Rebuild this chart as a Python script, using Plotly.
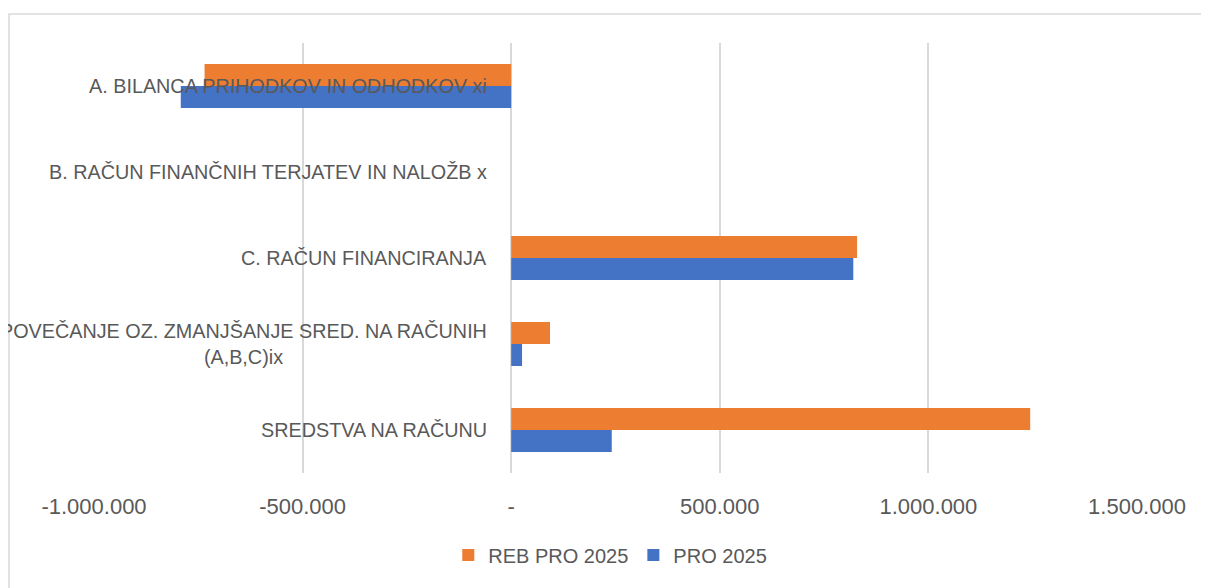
import plotly.graph_objects as go

categories = [
    "A. BILANCA PRIHODKOV IN ODHODKOV xi",
    "B. RAČUN FINANČNIH TERJATEV IN NALOŽB x",
    "C. RAČUN FINANCIRANJA",
    "POVEČANJE OZ. ZMANJŠANJE SRED. NA RAČUNIH<br>(A,B,C)ix",
    "SREDSTVA NA RAČUNU",
]
reb_pro_2025 = [-735000, 0, 829000, 93000, 1244000]
pro_2025 = [-792000, 0, 820000, 26000, 241000]
tick_vals = [-1000000, -500000, 0, 500000, 1000000, 1500000]
tick_text = ["-1.000.000", "-500.000", "-", "500.000", "1.000.000", "1.500.000"]

FONT = "Liberation Sans, Arial, sans-serif"
TXT = "#595959"
GRID = "#D9D9D9"

fig = go.Figure()
fig.add_trace(go.Bar(y=categories, x=reb_pro_2025, orientation="h", name="REB PRO 2025",
                     marker=dict(color="#ED7D31", line=dict(width=0))))
fig.add_trace(go.Bar(y=categories, x=pro_2025, orientation="h", name="PRO 2025",
                     marker=dict(color="#4472C4", line=dict(width=0))))

annotations = []
for c in categories:
    annotations.append(dict(x=0, y=c, xref="x", yref="y", text=c, showarrow=False,
                            xanchor="right", yanchor="middle", align="center", xshift=-22,
                            font=dict(family=FONT, size=19.8, color=TXT)))

W, H = 1201, 580
L, R, T, B = 86, 72, 35, 115
pw = W - L - R
ph = H - T - B

fig.update_layout(
    width=W, height=H,
    margin=dict(l=L, r=R, t=T, b=B),
    paper_bgcolor="white", plot_bgcolor="white",
    barmode="group", bargap=0.488, bargroupgap=0,
    font=dict(family=FONT, size=20, color=TXT),
    xaxis=dict(range=[-1000000, 1500000], tickvals=tick_vals, ticktext=tick_text,
               showgrid=True, gridcolor=GRID, gridwidth=1.5, zeroline=True,
               zerolinecolor=GRID, zerolinewidth=1.5, showline=False, ticks="",
               ticklabelstandoff=18, tickfont=dict(family=FONT, size=22, color=TXT)),
    yaxis=dict(autorange="reversed", showticklabels=False, showgrid=False,
               zeroline=False, showline=False, ticks=""),
    showlegend=True,
    legend=dict(orientation="h", x=0.495, xanchor="center", y=(ph - (555 - 8 - T)) / ph,
                yanchor="middle",
                font=dict(family=FONT, size=20, color=TXT), itemwidth=30,
                traceorder="normal"),
    annotations=annotations,
    shapes=[dict(type="rect", xref="paper", yref="paper",
                 x0=(1 - L) / pw, x1=(W + 20 - L) / pw,
                 y0=(ph + T - (H + 30)) / ph, y1=(ph + T - 6) / ph,
                 line=dict(color=GRID, width=1.5), fillcolor="rgba(0,0,0,0)", layer="below")],
)

fig.write_html("out.html")
